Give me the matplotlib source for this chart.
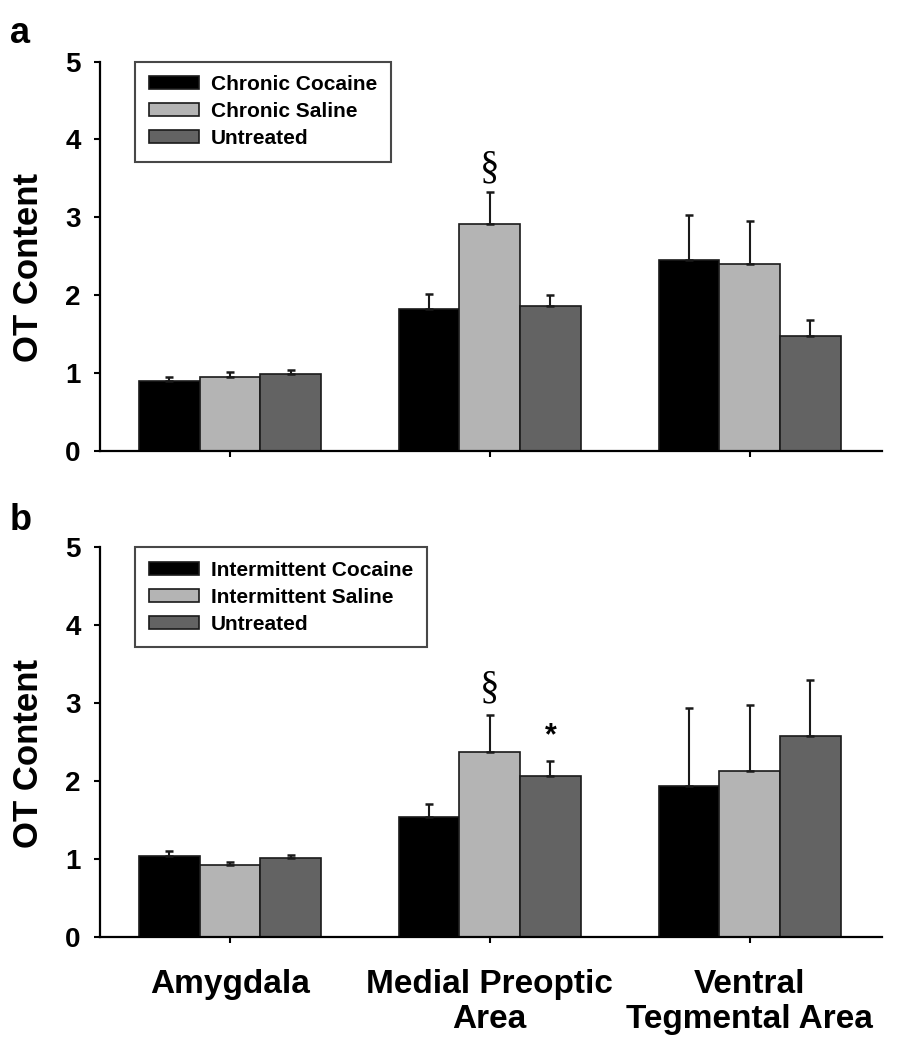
import numpy as np
import matplotlib
matplotlib.use("Agg")
import matplotlib.pyplot as plt

plt.rcParams["font.family"] = ["Liberation Sans", "DejaVu Sans"]
plt.rcParams["font.weight"] = "bold"

# regiones
regiones = ["Amygdala", "Medial Preoptic\nArea", "Ventral\nTegmental Area"]

# panel a (cronico)
labels_a = ["Chronic Cocaine", "Chronic Saline", "Untreated"]
cocaina_a = [0.89, 1.82, 2.45]
cocaina_a_err = [0.06, 0.19, 0.58]
salina_a = [0.95, 2.91, 2.40]
salina_a_err = [0.065, 0.41, 0.55]
sin_trat_a = [0.98, 1.86, 1.48]
sin_trat_a_err = [0.06, 0.145, 0.195]

# panel b (intermitente)
labels_b = ["Intermittent Cocaine", "Intermittent Saline", "Untreated"]
cocaina_b = [1.04, 1.54, 1.94]
cocaina_b_err = [0.06, 0.17, 1.00]
salina_b = [0.92, 2.37, 2.13]
salina_b_err = [0.045, 0.48, 0.845]
sin_trat_b = [1.01, 2.06, 2.58]
sin_trat_b_err = [0.045, 0.20, 0.71]

colores = ["#000000", "#b4b4b4", "#636363"]
ancho = 0.2335


def dibujar_panel(ax, series, errores, labels):
    x = np.arange(len(regiones))
    for i, (vals, errs) in enumerate(zip(series, errores)):
        pos = x + (i - 1) * ancho
        ax.bar(pos, vals, width=ancho, color=colores[i], edgecolor="#1a1a1a",
               linewidth=1.2, label=labels[i], zorder=2)
        ax.errorbar(pos, vals, yerr=[np.zeros(len(vals)), errs], fmt="none",
                    ecolor="#1a1a1a", elinewidth=1.5, capsize=3, capthick=1.8,
                    zorder=3)
    ax.set_xlim(-0.5, 2.51)
    ax.set_ylim(0, 5)
    ax.set_yticks([0, 1, 2, 3, 4, 5])
    ax.set_xticks(x)
    for s in ["top", "right"]:
        ax.spines[s].set_visible(False)
    for s in ["left", "bottom"]:
        ax.spines[s].set_linewidth(1.6)
    ax.tick_params(axis="both", direction="out", length=4, width=1.5,
                   labelsize=20, pad=10)
    ax.set_ylabel("OT Content", fontsize=25, fontweight="bold")
    ax.yaxis.set_label_coords(-0.07, 0.47)
    leg = ax.legend(loc="upper left", bbox_to_anchor=(0.045, 1.0), fontsize=15,
                    frameon=True, fancybox=False, edgecolor="#1a1a1a",
                    handlelength=2.4, handleheight=0.6, handletextpad=0.6,
                    labelspacing=0.38, borderpad=0.65, borderaxespad=0)
    leg.get_frame().set_linewidth(1.5)
    for t in leg.get_texts():
        t.set_fontweight("bold")


fig = plt.figure(figsize=(8.97, 10.5), dpi=100)
ax1 = fig.add_axes([0.1115, 0.5708, 0.8718, 0.3705])
ax2 = fig.add_axes([0.1115, 0.1079, 0.8718, 0.3709])

dibujar_panel(ax1, [cocaina_a, salina_a, sin_trat_a],
              [cocaina_a_err, salina_a_err, sin_trat_a_err], labels_a)
dibujar_panel(ax2, [cocaina_b, salina_b, sin_trat_b],
              [cocaina_b_err, salina_b_err, sin_trat_b_err], labels_b)

ax1.set_xticklabels([])
ax2.set_xticklabels(regiones, fontsize=24, fontweight="bold")
ax2.tick_params(axis="x", pad=19)

# marcas de significancia
ax1.text(1, 3.63, "\u00a7", ha="center", va="center", fontsize=28,
         family="Liberation Serif", fontweight="normal")
ax2.text(1, 3.19, "\u00a7", ha="center", va="center", fontsize=28,
         family="Liberation Serif", fontweight="normal")
ax2.text(1 + ancho, 2.58, "*", ha="center", va="center", fontsize=22,
         fontweight="bold")

fig.text(10 / 897, 1 - 43 / 1050, "a", fontsize=26, fontweight="bold",
         va="baseline")
fig.text(10 / 897, 1 - 530 / 1050, "b", fontsize=26, fontweight="bold",
         va="baseline")

fig.savefig("out.png", dpi=100)
